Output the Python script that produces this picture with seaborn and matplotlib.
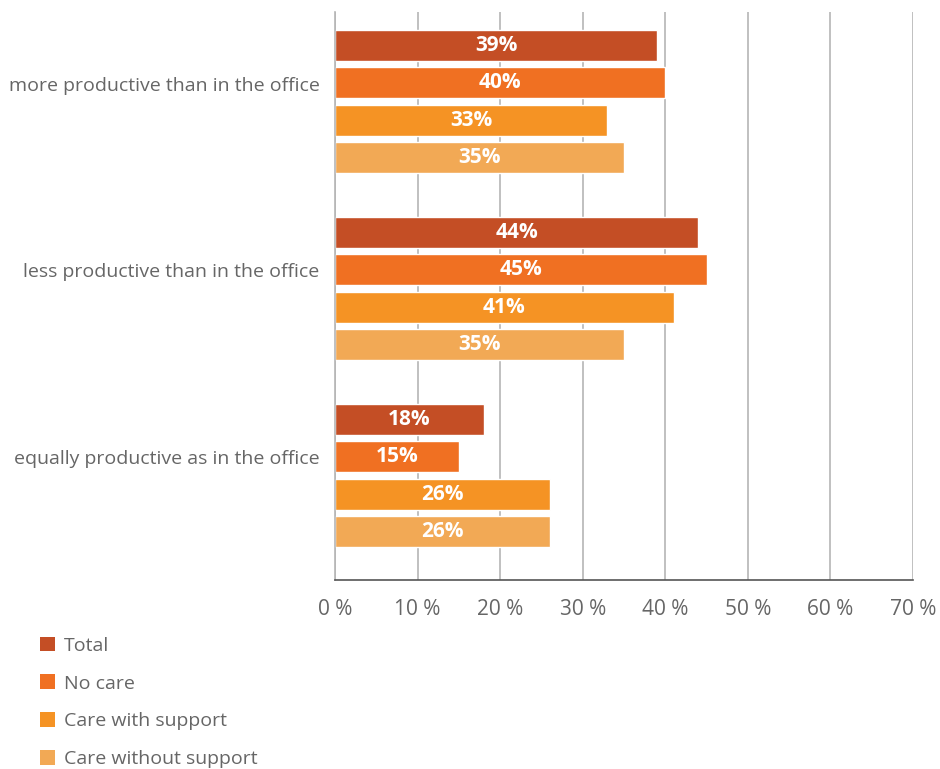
import matplotlib
matplotlib.use("Agg")
import matplotlib.pyplot as plt
import matplotlib.transforms as mtransforms
import seaborn as sns
import pandas as pd
from matplotlib.patches import Patch

categories = [
    "more productive than in the office",
    "less productive than in the office",
    "equally productive as in the office",
]
groups = ["Total", "No care", "Care with support", "Care without support"]
total = [39, 44, 18]
no_care = [40, 45, 15]
care_with_support = [33, 41, 26]
care_without_support = [35, 35, 26]
x_ticks = [0, 10, 20, 30, 40, 50, 60, 70]

colors = ["#C44E25", "#F07022", "#F59324", "#F2A955"]

rows = []
for g, vals in zip(groups, [total, no_care, care_with_support, care_without_support]):
    for c, v in zip(categories, vals):
        rows.append({"category": c, "group": g, "value": v})
df = pd.DataFrame(rows)

sns.set_theme(style="white")
plt.rcParams["font.family"] = ["Open Sans", "DejaVu Sans"]

fig = plt.figure(figsize=(9.4, 7.69), dpi=100)
ax = fig.add_axes([335 / 940, 1 - 580 / 769, 578 / 940, 568 / 769])

sns.barplot(
    data=df, x="value", y="category", hue="group", hue_order=groups,
    order=categories, palette=colors, orient="h", width=0.8, gap=0.17,
    saturation=1, ax=ax, legend=False, errorbar=None,
)

# value labels inside the bars
for container in ax.containers:
    for bar in container:
        w = bar.get_width()
        ax.text(
            w / 2, bar.get_y() + bar.get_height() / 2, f"{w:.0f}%",
            ha="center", va="center", color="white", fontsize=15,
            fontweight="bold",
        )

ax.set_xlim(0, 70)
ax.set_ylim(2.559, -0.479)
ax.set_xticks(x_ticks)
ax.set_xticklabels([f"{t} %" for t in x_ticks], fontsize=15, color="#666666")
ax.tick_params(axis="x", direction="out", length=11, width=1.2,
               color="#555555", pad=3)
ax.tick_params(axis="y", length=0, pad=11, labelsize=14, labelcolor="#666666")
ax.set_xlabel("")
ax.set_ylabel("")

# category labels sit level with the second bar of each group
shift = mtransforms.ScaledTranslation(0, 13 / 72, fig.dpi_scale_trans)
for lbl in ax.get_yticklabels():
    lbl.set_transform(lbl.get_transform() + shift)

ax.xaxis.grid(True, color="#b5b5b5", linewidth=1.2)
ax.set_axisbelow(True)
for s in ["top", "right"]:
    ax.spines[s].set_visible(False)
ax.spines["left"].set_color("#b5b5b5")
ax.spines["left"].set_linewidth(1.2)
ax.spines["bottom"].set_color("#555555")
ax.spines["bottom"].set_linewidth(1.2)

handles = [Patch(facecolor=c, edgecolor="none") for c in colors]
fig.legend(
    handles, groups, loc="upper left", bbox_to_anchor=(22 / 940, 1 - 619 / 769),
    frameon=False, fontsize=14, labelcolor="#666666", handlelength=0.8,
    handleheight=0.8, handletextpad=0.45, labelspacing=1.01,
)

fig.savefig("out.png", dpi=100)
